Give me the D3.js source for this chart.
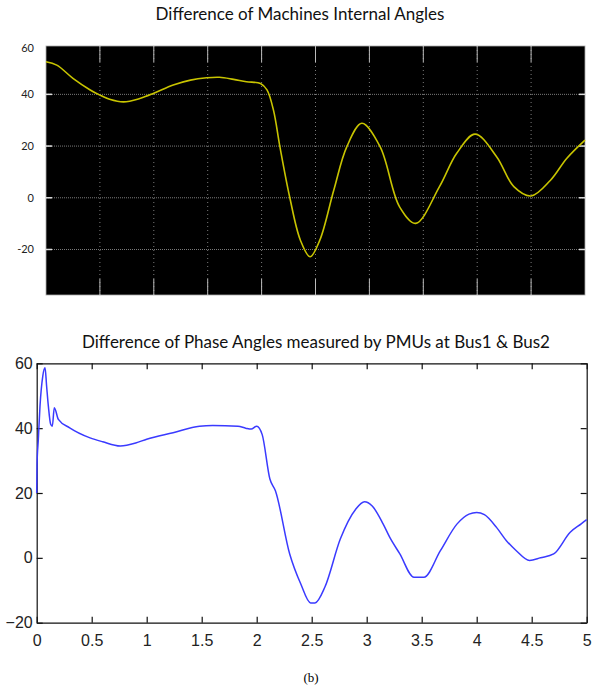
<!DOCTYPE html>
<html>
<head>
<meta charset="utf-8">
<script src="https://cdn.jsdelivr.net/npm/d3@7"></script>
<style>
  body { margin: 0; background: #fff; }
  svg { display: block; }
</style>
</head>
<body>
<script>
var width = 592;
var height = 688;

// top panel: machines internal angle difference (deg) vs time (s)
var topTime = [0, 0.1, 0.25, 0.41, 0.5, 0.59, 0.72, 0.87, 1.0, 1.18, 1.34, 1.49, 1.61, 1.74, 1.86, 1.99, 2.05, 2.11, 2.17, 2.26, 2.36, 2.45, 2.54, 2.67, 2.79, 2.93, 3.1, 3.28, 3.43, 3.65, 3.81, 3.98, 4.18, 4.34, 4.5, 4.68, 4.83, 5.0];
var topAngle = [52.6, 51.3, 46.2, 41.7, 39.7, 38.1, 37.1, 38.4, 40.4, 43.6, 45.5, 46.4, 46.6, 45.8, 44.9, 44.2, 41.7, 33.9, 19.7, 0.4, -16.4, -22.8, -16.4, 3.0, 19.7, 28.8, 19.7, -3.5, -9.9, 4.3, 17.2, 24.6, 15.9, 4.3, 0.7, 6.8, 15.2, 22.3];
var topYTicks = [-20, 0, 20, 40, 60];
var topXGrid = [0.5, 1, 1.5, 2, 2.5, 3, 3.5, 4, 4.5];

// bottom panel: PMU phase angle difference Bus1 - Bus2
var botTime = [0, 0.003, 0.015, 0.03, 0.055, 0.076, 0.09, 0.106, 0.127, 0.142, 0.16, 0.197, 0.3, 0.485, 0.6, 0.76, 0.9, 1.0, 1.24, 1.48, 1.6, 1.83, 1.9, 1.95, 2.0, 2.05, 2.12, 2.17, 2.3, 2.4, 2.49, 2.53, 2.62, 2.76, 2.9, 2.98, 3.05, 3.15, 3.21, 3.3, 3.43, 3.52, 3.67, 3.82, 3.93, 4.0, 4.07, 4.18, 4.27, 4.36, 4.48, 4.58, 4.7, 4.85, 4.95, 5.0];
var botAngle = [20, 28.9, 36.6, 46.8, 56, 58.6, 53, 46.8, 41.2, 40.6, 46.3, 42.7, 40.1, 37, 35.8, 34.5, 35.4, 36.6, 38.6, 40.6, 40.8, 40.6, 40, 39.7, 40.6, 38, 24.3, 20.7, 1.2, -8, -13.9, -13.9, -9, 5.8, 15, 17.3, 16, 10.4, 6.3, 1.3, -6, -6, 2.2, 10.4, 13.5, 14, 13.3, 9.4, 5.3, 2.2, -0.8, 0, 1.2, 7.9, 10.5, 11.8];
var botYTicks = [-20, 0, 20, 40, 60];
var botXTicks = [0, 0.5, 1, 1.5, 2, 2.5, 3, 3.5, 4, 4.5, 5];

var svg = d3.select("body").append("svg")
    .attr("width", width)
    .attr("height", height)

// ---------- top (scope style) ----------
var tx = d3.scaleLinear().domain([0, 5]).range([46, 585]);
var ty = d3.scaleLinear().domain([-37.6, 58.7]).range([295, 46]);

svg.append("text")
    .attr("x", 300).attr("y", 20)
    .attr("text-anchor", "middle")
    .attr("font-family", "Lato, 'Open Sans', sans-serif")
    .attr("font-size", 17)
    .attr("fill", "#111")
    .text("Difference of Machines Internal Angles");

svg.append("rect")
    .attr("x", tx(0)).attr("y", ty.range()[1])
    .attr("width", tx(5) - tx(0))
    .attr("height", ty.range()[0] - ty.range()[1])
    .attr("fill", "#000")
    .attr("stroke", "#aaa")
    .attr("stroke-width", 0.8);

var topGrid = svg.append("g");
topGrid.selectAll(".vgrid")
    .data(topXGrid)
    .enter().append("line")
    .attr("x1", function(d) { return tx(d); })
    .attr("x2", function(d) { return tx(d); })
    .attr("y1", ty.range()[1]).attr("y2", ty.range()[0])
    .attr("stroke", "#9a9a9a")
    .attr("stroke-width", 0.8)
    .attr("stroke-dasharray", "1,3");

topGrid.selectAll(".hgrid")
    .data(topYTicks.filter(function(d) { return d < 58; }))
    .enter().append("line")
    .attr("x1", tx(0)).attr("x2", tx(5))
    .attr("y1", function(d) { return ty(d); })
    .attr("y2", function(d) { return ty(d); })
    .attr("stroke", "#9a9a9a")
    .attr("stroke-width", 0.8)
    .attr("stroke-dasharray", "1,1");

// solid tick stubs on the scope frame
topXGrid.forEach(function(d) {
    topGrid.append("line")
        .attr("x1", tx(d)).attr("x2", tx(d))
        .attr("y1", ty.range()[1]).attr("y2", ty.range()[1] + 16)
        .attr("stroke", "#bbb").attr("stroke-width", 1);
    topGrid.append("line")
        .attr("x1", tx(d)).attr("x2", tx(d))
        .attr("y1", ty.range()[0] - 16).attr("y2", ty.range()[0])
        .attr("stroke", "#bbb").attr("stroke-width", 1);
});
topYTicks.filter(function(d) { return d < 58; }).forEach(function(d) {
    topGrid.append("line")
        .attr("x1", tx(0)).attr("x2", tx(0) + 6)
        .attr("y1", ty(d)).attr("y2", ty(d))
        .attr("stroke", "#ddd").attr("stroke-width", 1.5);
    topGrid.append("line")
        .attr("x1", tx(5) - 6).attr("x2", tx(5))
        .attr("y1", ty(d)).attr("y2", ty(d))
        .attr("stroke", "#ddd").attr("stroke-width", 1.5);
});

svg.selectAll(".toplabel")
    .data(topYTicks)
    .enter().append("text")
    .attr("x", 34)
    .attr("y", function(d) { return Math.max(ty(d), ty.range()[1] + 2) + 4; })
    .attr("text-anchor", "end")
    .attr("font-family", "Lato, sans-serif")
    .attr("font-size", 11)
    .attr("fill", "#222")
    .text(function(d) { return d; });

var topLine = d3.line()
    .x(function(d, i) { return tx(topTime[i]); })
    .y(function(d) { return ty(d); })
    .curve(d3.curveCatmullRom.alpha(0.5));

svg.append("path")
    .attr("d", topLine(topAngle))
    .attr("fill", "none")
    .attr("stroke", "#c8c400")
    .attr("stroke-width", 1.6);

// ---------- bottom (matlab plot style) ----------
var bx = d3.scaleLinear().domain([0, 5]).range([36.7, 586.7]);
var by = d3.scaleLinear().domain([-20, 60]).range([622.7, 363.3]);

svg.append("text")
    .attr("x", 316).attr("y", 348)
    .attr("text-anchor", "middle")
    .attr("font-family", "Lato, 'Open Sans', sans-serif")
    .attr("font-size", 17)
    .attr("fill", "#111")
    .text("Difference of Phase Angles measured by PMUs at Bus1 & Bus2");

var xAxis = svg.append("g")
    .attr("transform", "translate(0," + by(-20) + ")")
    .call(d3.axisBottom(bx).tickValues(botXTicks).tickSizeInner(-6).tickSizeOuter(0).tickPadding(12)
        .tickFormat(function(d) { return d; }));
var xAxisTop = svg.append("g")
    .attr("transform", "translate(0," + by(60) + ")")
    .call(d3.axisTop(bx).tickValues(botXTicks).tickSizeInner(-6).tickSizeOuter(0).tickFormat(""));
var yAxis = svg.append("g")
    .attr("transform", "translate(" + bx(0) + ",0)")
    .call(d3.axisLeft(by).tickValues(botYTicks).tickSizeInner(-6).tickSizeOuter(0).tickPadding(4));
var yAxisRight = svg.append("g")
    .attr("transform", "translate(" + bx(5) + ",0)")
    .call(d3.axisRight(by).tickValues(botYTicks).tickSizeInner(-6).tickSizeOuter(0).tickFormat(""));

[xAxis, xAxisTop, yAxis, yAxisRight].forEach(function(a) {
    a.select(".domain").attr("stroke", "#111").attr("stroke-width", 1.2);
    a.selectAll(".tick line").attr("stroke", "#111").attr("stroke-width", 1.2);
    a.selectAll("text")
        .attr("font-family", "'Liberation Sans', Arial, sans-serif")
        .attr("font-size", 16)
        .attr("fill", "#222");
});

var botLine = d3.line()
    .x(function(d, i) { return bx(botTime[i]); })
    .y(function(d) { return by(d); })
    .curve(d3.curveMonotoneX);

svg.append("path")
    .attr("d", botLine(botAngle))
    .attr("fill", "none")
    .attr("stroke", "#3a3aff")
    .attr("stroke-width", 1.5);

svg.append("text")
    .attr("x", 311).attr("y", 682)
    .attr("text-anchor", "middle")
    .attr("font-family", "'Liberation Serif', 'Times New Roman', serif")
    .attr("font-size", 13)
    .attr("fill", "#000")
    .text("(b)");
</script>
</body>
</html>
